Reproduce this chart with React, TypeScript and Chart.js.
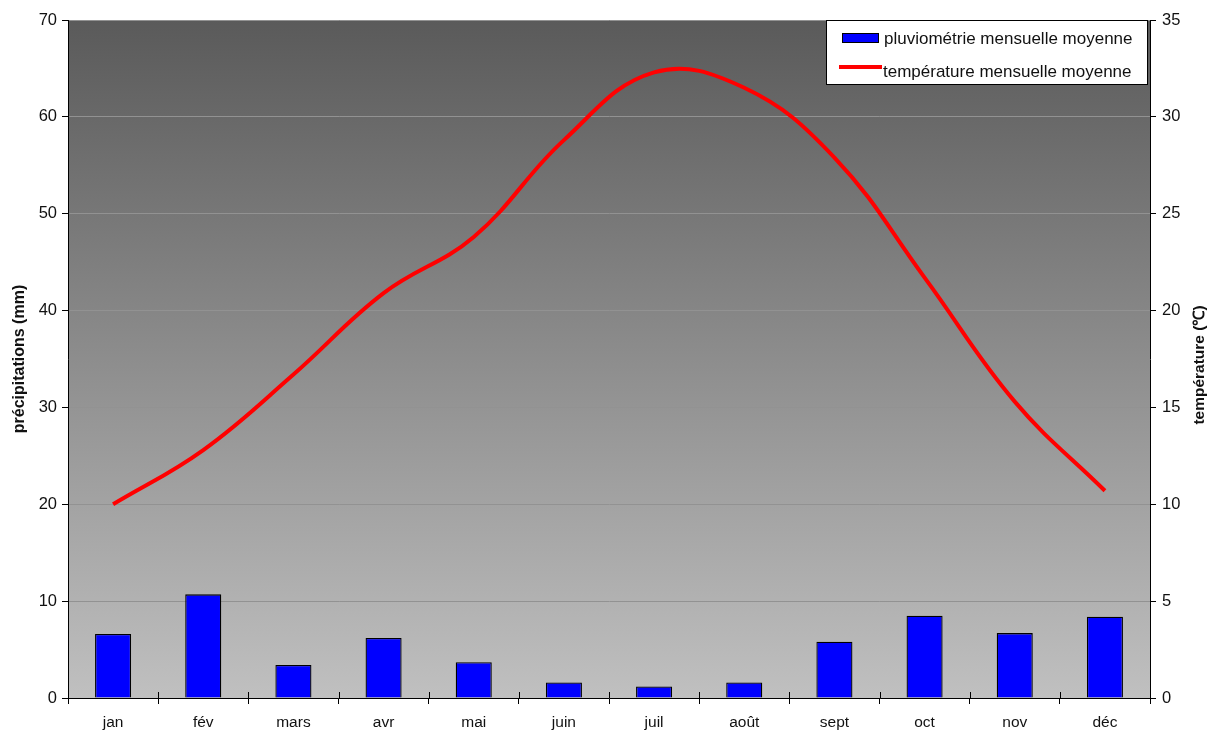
import React, { useEffect, useRef } from 'react';
import { Chart, registerables } from 'chart.js';

Chart.register(...registerables);

const categories = ['jan', 'fév', 'mars', 'avr', 'mai', 'juin', 'juil', 'août', 'sept', 'oct', 'nov', 'déc'];
const precipitation = [6.6, 10.7, 3.4, 6.2, 3.7, 1.6, 1.2, 1.6, 5.8, 8.5, 6.7, 8.4];
const temperature = [10.0, 12.8, 16.7, 20.9, 23.8, 28.8, 32.3, 31.5, 27.9, 21.7, 15.3, 10.7];

const leftTitle = 'précipitations (mm)';
const rightTitle = 'température (℃)';
const barLabel = 'pluviométrie mensuelle moyenne';
const lineLabel = 'température mensuelle moyenne';

const FONT = "'Liberation Sans', Arial, sans-serif";

const bgPlugin = {
  id: 'gradientBg',
  beforeDraw(chart: any) {
    const { ctx, chartArea: a } = chart;
    const g = ctx.createLinearGradient(0, a.top, 0, a.bottom);
    g.addColorStop(0, '#5a5a5a');
    g.addColorStop(1, '#c0c0c0');
    ctx.save();
    ctx.fillStyle = g;
    ctx.fillRect(a.left, a.top, a.right - a.left, a.bottom - a.top);
    ctx.restore();
  },
};

const overlayPlugin = {
  id: 'overlay',
  afterDraw(chart: any) {
    const { ctx, chartArea: a } = chart;
    const ds = chart.data.datasets;
    ctx.save();
    // x tick marks crossing into the plot (category boundaries)
    const xs = chart.scales.x;
    const n = chart.data.labels.length;
    ctx.strokeStyle = '#000000';
    ctx.lineWidth = 1;
    for (let i = 1; i < n; i++) {
      const px = Math.round((xs.getPixelForValue(i - 1) + xs.getPixelForValue(i)) / 2) + 0.5;
      ctx.beginPath();
      ctx.moveTo(px, a.bottom - 6);
      ctx.lineTo(px, a.bottom);
      ctx.stroke();
    }
    // legend box
    const w = 322;
    const h = 65;
    const x = a.right - 324;
    const y = a.top;
    ctx.fillStyle = '#ffffff';
    ctx.fillRect(x, y, w, h);
    ctx.strokeStyle = '#000000';
    ctx.lineWidth = 1;
    ctx.strokeRect(x + 0.5, y + 0.5, w - 1, h - 1);
    ctx.fillStyle = ds[0].backgroundColor;
    ctx.fillRect(x + 16, y + 13, 37, 10);
    ctx.strokeStyle = '#000000';
    ctx.strokeRect(x + 16.5, y + 13.5, 36, 9);
    ctx.font = `17px ${FONT}`;
    ctx.fillStyle = '#111111';
    ctx.textBaseline = 'middle';
    ctx.textAlign = 'left';
    ctx.fillText(ds[0].label, x + 58, y + 19);
    ctx.strokeStyle = ds[1].borderColor;
    ctx.lineWidth = 4;
    ctx.beginPath();
    ctx.moveTo(x + 13, y + 47);
    ctx.lineTo(x + 56, y + 47);
    ctx.stroke();
    ctx.fillText(ds[1].label, x + 57, y + 52);
    // right axis title
    ctx.translate(a.right + 50, (a.top + a.bottom) / 2 + 6);
    ctx.rotate(-Math.PI / 2);
    ctx.font = `bold 15.5px ${FONT}`;
    ctx.textAlign = 'center';
    ctx.textBaseline = 'middle';
    ctx.fillStyle = '#111111';
    ctx.fillText(rightTitle, 0, 0);
    ctx.restore();
  },
};

export default function App() {
  const ref = useRef<HTMLCanvasElement>(null);

  useEffect(() => {
    if (!ref.current) return;
    const chart = new Chart(ref.current, {
      type: 'bar',
      data: {
        labels: categories,
        datasets: [
          {
            type: 'bar',
            label: barLabel,
            data: precipitation,
            backgroundColor: '#0000ff',
            borderColor: '#000000',
            borderWidth: 1.3,
            barPercentage: 0.4,
            categoryPercentage: 1,
            yAxisID: 'y',
            order: 2,
          },
          {
            type: 'line',
            label: lineLabel,
            data: temperature,
            borderColor: '#ff0000',
            backgroundColor: '#ff0000',
            borderWidth: 4,
            pointRadius: 0,
            tension: 0.4,
            yAxisID: 'y1',
            order: 1,
          },
        ],
      } as any,
      options: {
        responsive: false,
        animation: false,
        devicePixelRatio: 1,
        layout: { padding: { left: 0, right: 0, top: 20, bottom: 0 } },
        plugins: {
          legend: { display: false },
          tooltip: { enabled: false },
        },
        scales: {
          x: {
            type: 'category',
            offset: true,
            afterFit(scale: any) {
              scale.height = 38;
            },
            grid: {
              offset: true,
              drawOnChartArea: false,
              drawTicks: true,
              tickLength: 6,
              tickColor: '#000000',
            },
            border: { color: '#000000', width: 1 },
            ticks: {
              color: '#111111',
              padding: 9,
              font: { family: FONT, size: 15.5 },
              maxRotation: 0,
            },
          },
          y: {
            position: 'left',
            min: 0,
            max: 70,
            afterFit(scale: any) {
              scale.width = 68;
            },
            ticks: {
              stepSize: 10,
              color: '#111111',
              padding: 5,
              font: { family: FONT, size: 16.5 },
            },
            grid: {
              color: '#929292',
              tickColor: '#000000',
              tickLength: 6,
            },
            border: { color: '#000000', width: 1 },
            title: {
              display: true,
              text: leftTitle,
              color: '#111111',
              font: { family: FONT, size: 16, weight: 'bold' },
              padding: { top: 10, bottom: 4 },
            },
          },
          y1: {
            position: 'right',
            min: 0,
            max: 35,
            afterFit(scale: any) {
              scale.width = 69;
            },
            ticks: {
              stepSize: 5,
              color: '#111111',
              padding: 6,
              font: { family: FONT, size: 16.5 },
            },
            grid: {
              drawOnChartArea: false,
              tickColor: '#000000',
              tickLength: 6,
            },
            border: { color: '#000000', width: 1 },
          },
        },
      } as any,
      plugins: [bgPlugin, overlayPlugin],
    });
    return () => chart.destroy();
  }, []);

  return (
    <div style={{ position: 'absolute', left: 0, top: 0, width: 1219, height: 736, background: '#ffffff' }}>
      <canvas ref={ref} width={1219} height={736} style={{ display: 'block', width: 1219, height: 736 }} />
    </div>
  );
}
